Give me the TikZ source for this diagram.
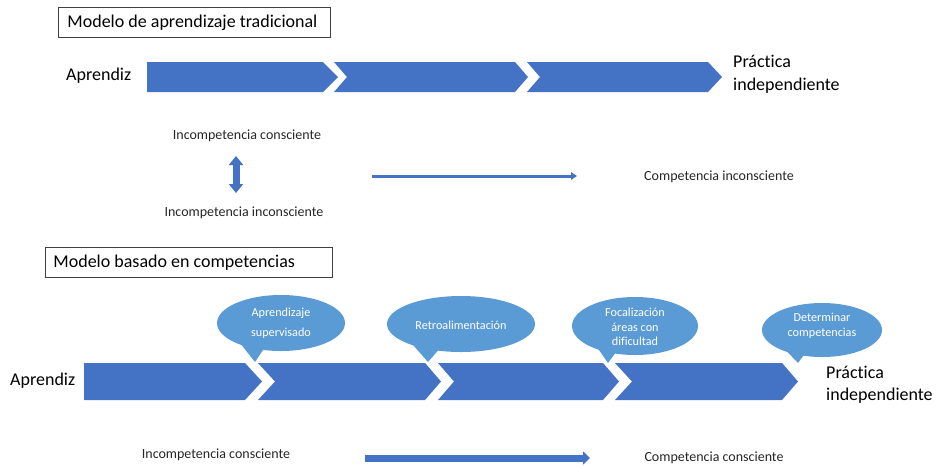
\documentclass[tikz,border=0pt]{standalone}
\usepackage{fontspec}
\setmainfont{Carlito}[Ligatures=NoCommon]
\usetikzlibrary{arrows.meta}
\definecolor{chev}{HTML}{4472C4}
\definecolor{bub}{HTML}{5B9BD5}
\tikzset{
  chevshape/.style={fill=chev, draw=none},
  bubshape/.style={fill=bub, draw=none},
  titlebox/.style={draw=black!75, line width=0.9pt, anchor=north west, inner ysep=0pt, minimum height=30pt, font=\fontsize{18}{22}\selectfont},
  bigtxt/.style={inner sep=0pt, font=\fontsize{18}{22.5}\selectfont, align=left},
  smalltxt/.style={inner sep=0pt, font=\fontsize{14}{16}\selectfont, text=black!85},
  bubtxt/.style={inner sep=0pt, align=center, text=white, font=\fontsize{12.2}{14.5}\selectfont},
  blockarrow/.style={draw=chev},
}
\begin{document}
\begin{tikzpicture}[x=1pt,y=-1pt]
\useasboundingbox (0,0) rectangle (940,467);
% ---------- top section ----------
\node[titlebox, inner xsep=9pt] (t1) at (58,7) {\makebox[254pt][l]{Modelo de aprendizaje tradicional}};
\node[bigtxt, anchor=west] (ap1) at (66,76) {Aprendiz};
\node[bigtxt, anchor=west] (pr1) at (733,74.5) {Práctica\\independiente};
\fill[chevshape] (147,62) -- (323,62) -- (338,77) -- (323,92) -- (147,92) -- cycle;
\fill[chevshape] (334,62) -- (515,62) -- (528,77) -- (515,92) -- (334,92) -- (347,77) -- cycle;
\fill[chevshape] (527,62) -- (708,62) -- (722,77) -- (708,92) -- (527,92) -- (540,77) -- cycle;

\node[smalltxt] (ic1) at (247,136) {Incompetencia consciente};
\node[smalltxt] (ii1) at (244,213) {Incompetencia inconsciente};
\node[smalltxt] (ci1) at (719,177) {Competencia inconsciente};
\coordinate (da1) at (236,156);
\coordinate (da2) at (236,193);
\draw[blockarrow, line width=7pt, {Triangle[length=9pt,width=14pt]}-{Triangle[length=9pt,width=14pt]}] (da1) -- (da2);
\coordinate (ta1) at (372,176);
\coordinate (ta2) at (577,176);
\draw[blockarrow, line width=3pt, -{Triangle[length=6pt,width=7.5pt]}] (ta1) -- (ta2);

% ---------- bottom section ----------
\node[titlebox, inner xsep=8pt] (t2) at (45,247) {\makebox[271pt][l]{Modelo basado en competencias}};
\node[bigtxt, anchor=west] (ap2) at (10,381) {Aprendiz};
\node[bigtxt, anchor=west] (pr2) at (826,384.5) {Práctica\\independiente};
\fill[chevshape] (84,363) -- (245,363) -- (262,381.5) -- (245,400) -- (84,400) -- cycle;
\fill[chevshape] (258,363) -- (425,363) -- (441,381.5) -- (425,400) -- (258,400) -- (275,381.5) -- cycle;
\fill[chevshape] (438,363) -- (603,363) -- (619,381.5) -- (603,400) -- (438,400) -- (454,381.5) -- cycle;
\fill[chevshape] (615,363) -- (782,363) -- (798,381.5) -- (782,400) -- (615,400) -- (632,381.5) -- cycle;

% bubbles
\coordinate (b1) at (281,323);
\fill[bubshape] (b1) ellipse [x radius=64pt, y radius=28pt];
\fill[bubshape] (b1) ++(128:64 and 28) -- (255,362) -- (b1) ++(98:64 and 28) -- cycle;
\node[bubtxt, font=\fontsize{12.2}{20}\selectfont] (bt1) at (281,323) {Aprendizaje\\supervisado};

\coordinate (b2) at (461,324);
\fill[bubshape] (b2) ellipse [x radius=74pt, y radius=28pt];
\fill[bubshape] (b2) ++(130:74 and 28) -- (428,362) -- (b2) ++(103:74 and 28) -- cycle;
\node[bubtxt] (bt2) at (461,325) {Retroalimentación};

\coordinate (b3) at (635,326);
\fill[bubshape] (b3) ellipse [x radius=63pt, y radius=29pt];
\fill[bubshape] (b3) ++(125:63 and 29) -- (608,363) -- (b3) ++(100:63 and 29) -- cycle;
\node[bubtxt] (bt3) at (635,327) {Focalización\\áreas con\\dificultad};

\coordinate (b4) at (822,330);
\fill[bubshape] (b4) ellipse [x radius=60pt, y radius=27pt];
\fill[bubshape] (b4) ++(125:60 and 27) -- (798,363) -- (b4) ++(100:60 and 27) -- cycle;
\node[bubtxt] (bt4) at (822,326) {Determinar\\competencias};

\node[smalltxt] (ic2) at (216,455) {Incompetencia consciente};
\node[smalltxt] (cc2) at (714,458) {Competencia consciente};
\coordinate (ba1) at (365,458);
\coordinate (ba2) at (590,458);
\draw[blockarrow, line width=7pt, -{Triangle[length=7pt,width=13pt]}] (ba1) -- (ba2);
\end{tikzpicture}
\end{document}
